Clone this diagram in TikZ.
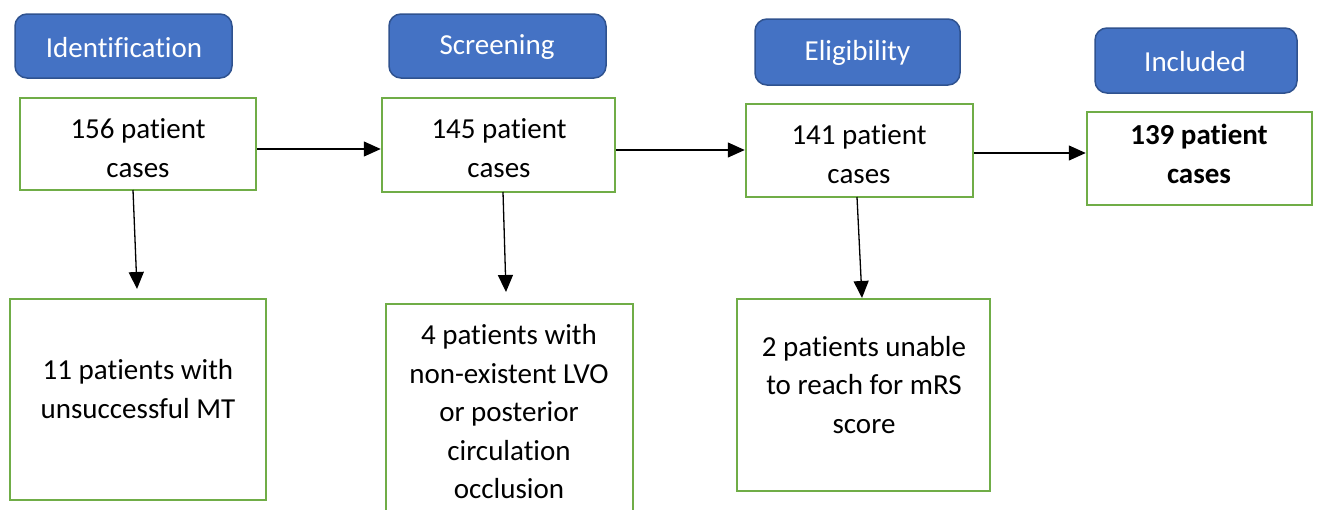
\documentclass[tikz,border=0pt]{standalone}
\usepackage{fontspec}
\setmainfont{Carlito}[Ligatures=NoCommon]
\usetikzlibrary{arrows.meta}
\definecolor{hdrfill}{HTML}{4472C4}
\definecolor{hdrdraw}{HTML}{2F528F}
\definecolor{grn}{HTML}{70AD47}
\begin{document}
\begin{tikzpicture}[x=1pt,y=-1pt,
  hdr/.style={draw=hdrdraw,fill=hdrfill,line width=1.5pt,rounded corners=12pt,text=white,inner sep=0pt},
  gbox/.style={draw=grn,line width=2.5pt,fill=white,inner sep=0pt},
  txt/.style={align=center,font=\fontsize{29}{38.5}\selectfont,inner sep=0pt},
  arr/.style={line width=1.3pt,-{Triangle[length=17pt,width=15pt]}}]
\useasboundingbox (0,0) rectangle (1317,509);
\clip (0,0) rectangle (1317,509);
% headers
\node[hdr,minimum width=217,minimum height=64] (h1) at (123.5,46) {};
\node[txt,text=white] (h1t) at (124,47.5) {Identification};
\node[hdr,minimum width=217,minimum height=64] (h2) at (497.5,46) {};
\node[txt,text=white] (h2t) at (497,47.5) {Screening};
\node[hdr,minimum width=205,minimum height=66] (h3) at (857.5,52) {};
\node[txt,text=white] (h3t) at (857.5,53) {Eligibility};
\node[hdr,minimum width=202,minimum height=65] (h4) at (1196,60.5) {};
\node[txt,text=white] (h4t) at (1195,61.5) {Included};
% main boxes
\node[gbox,minimum width=236,minimum height=92] (b1) at (138,144) {};
\node[txt] (b1t) at (138,148) {156 patient\\cases};
\node[gbox,minimum width=233,minimum height=94] (b2) at (498.5,145) {};
\node[txt] (b2t) at (499,148) {145 patient\\cases};
\node[gbox,minimum width=227,minimum height=93] (b3) at (859.5,150.5) {};
\node[txt] (b3t) at (859,154) {141 patient\\cases};
\node[gbox,minimum width=225,minimum height=93] (b4) at (1199.5,158.5) {};
\node[txt,font=\fontsize{29}{38.5}\selectfont\bfseries] (b4t) at (1199,154) {139 patient\\cases};
% exclusion boxes
\node[gbox,minimum width=256,minimum height=201] (e1) at (138,399.5) {};
\node[txt] (e1t) at (138,389) {11 patients with\\unsuccessful MT};
\node[gbox,minimum width=247,minimum height=240] (e2) at (509.5,424) {};
\node[txt] (e2t) at (509,412) {4 patients with\\non-existent LVO\\or posterior\\circulation\\occlusion};
\node[gbox,minimum width=253,minimum height=192] (e3) at (863.5,395) {};
\node[txt] (e3t) at (864,385) {2 patients unable\\to reach for mRS\\score};
% connector ends
\coordinate (c1) at (137,289);
\coordinate (c2) at (506,292);
\coordinate (c3) at (862,298);
\coordinate (s1) at (133,190);
\coordinate (s2) at (503,192);
\coordinate (s3) at (857,197);
% arrows
\draw[arr] (b1.east|-138,149) -- (b2.west|-138,149);
\draw[arr] (b2.east|-138,150) -- (b3.west|-138,150);
\draw[arr] (b3.east|-138,153) -- (b4.west|-138,153);
\draw[arr] (s1) -- (c1);
\draw[arr] (s2) -- (c2);
\draw[arr] (s3) -- (c3);
\end{tikzpicture}
\end{document}
